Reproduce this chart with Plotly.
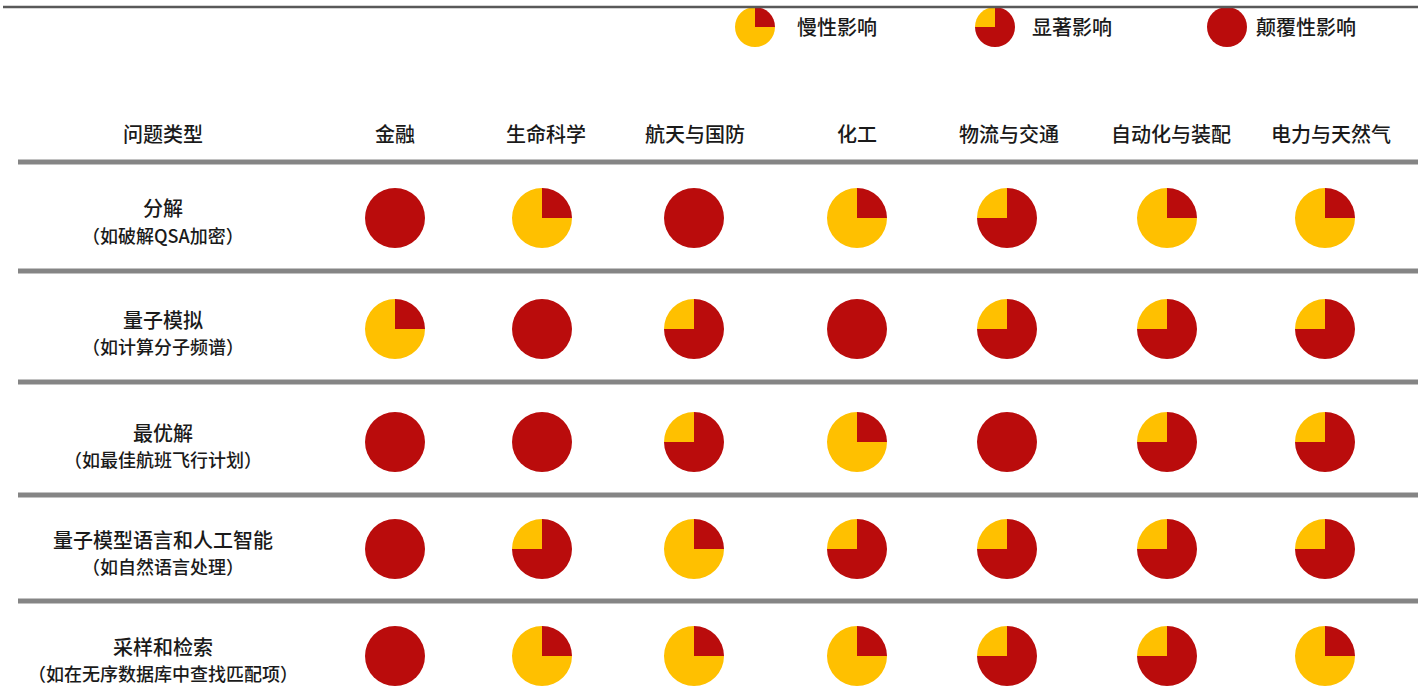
import plotly.graph_objects as go

W, H = 1418, 687

# Industries (columns) and problem types (rows)
industries = ["金融", "生命科学", "航天与国防", "化工", "物流与交通", "自动化与装配", "电力与天然气"]
problems = ["分解", "量子模拟", "最优解", "量子模型语言和人工智能", "采样和检索"]
problem_examples = ["（如破解QSA加密）", "（如计算分子频谱）", "（如最佳航班飞行计划）",
                    "（如自然语言处理）", "（如在无序数据库中查找匹配项）"]

# Impact levels: 1 = 慢性影响, 2 = 显著影响, 3 = 颠覆性影响
impact_names = ["慢性影响", "显著影响", "颠覆性影响"]
impact_red_share = {1: 25, 2: 75, 3: 100}
impact = [
    [3, 1, 3, 1, 2, 1, 1],
    [1, 3, 2, 3, 2, 2, 2],
    [3, 3, 2, 1, 3, 2, 2],
    [3, 2, 1, 2, 2, 2, 2],
    [3, 1, 1, 1, 2, 2, 1],
]

RED = "#BA0C0C"
YELLOW = "#FFC000"
FONT = "Noto Sans CJK SC"

# layout geometry (pixels)
col_x = [395, 542, 694, 857, 1007, 1167, 1325]
head_x = [395, 546, 695, 857, 1009, 1171, 1331]
row_y = [218, 329, 442, 549, 656]
pie_r = 30
label_x = 163
header_y = 134
sep_y = [162, 271, 382, 495, 601]
legend_x = [755, 995, 1227]
legend_text_x = [795, 1030, 1254]
legend_y = 27
legend_r = 20


def px(x):
    return x / W


def py(y):
    return 1 - y / H


def pie_trace(cx, cy, r, level):
    red = impact_red_share[level]
    return go.Pie(
        values=[red, 100 - red],
        marker=dict(colors=[RED, YELLOW], line=dict(width=0)),
        sort=False,
        direction="clockwise",
        rotation=0,
        textinfo="none",
        hoverinfo="skip",
        showlegend=False,
        domain=dict(x=[px(cx - r), px(cx + r)], y=[py(cy + r), py(cy - r)]),
    )


fig = go.Figure()

for i, row in enumerate(impact):
    for j, level in enumerate(row):
        fig.add_trace(pie_trace(col_x[j], row_y[i], pie_r, level))

for k in range(3):
    fig.add_trace(pie_trace(legend_x[k], legend_y, legend_r, k + 1))

annotations = []


def text(x, y, s, size=20, anchor="center"):
    annotations.append(dict(
        x=px(x), y=py(y), xref="paper", yref="paper", text=s, showarrow=False,
        xanchor=anchor, yanchor="middle",
        font=dict(family=FONT, size=size, color="#1a1a1a", weight=500),
    ))


text(label_x, header_y, "问题类型")
for j, name in enumerate(industries):
    text(head_x[j], header_y, name)

for i, name in enumerate(problems):
    text(label_x, row_y[i] - 10, name)
    text(label_x, row_y[i] + 17, problem_examples[i], size=18)

for k, name in enumerate(impact_names):
    text(legend_text_x[k], legend_y, name, anchor="left")

shapes = [dict(type="line", xref="paper", yref="paper", x0=px(3), x1=1,
               y0=py(7), y1=py(7), line=dict(color="#595959", width=2.5))]
for y in sep_y:
    shapes.append(dict(type="line", xref="paper", yref="paper", x0=px(18), x1=1,
                       y0=py(y), y1=py(y), line=dict(color="#858585", width=5)))

fig.update_layout(
    width=W, height=H,
    margin=dict(l=0, r=0, t=0, b=0),
    paper_bgcolor="white", plot_bgcolor="white",
    annotations=annotations, shapes=shapes,
)

fig.write_html("out.html")
